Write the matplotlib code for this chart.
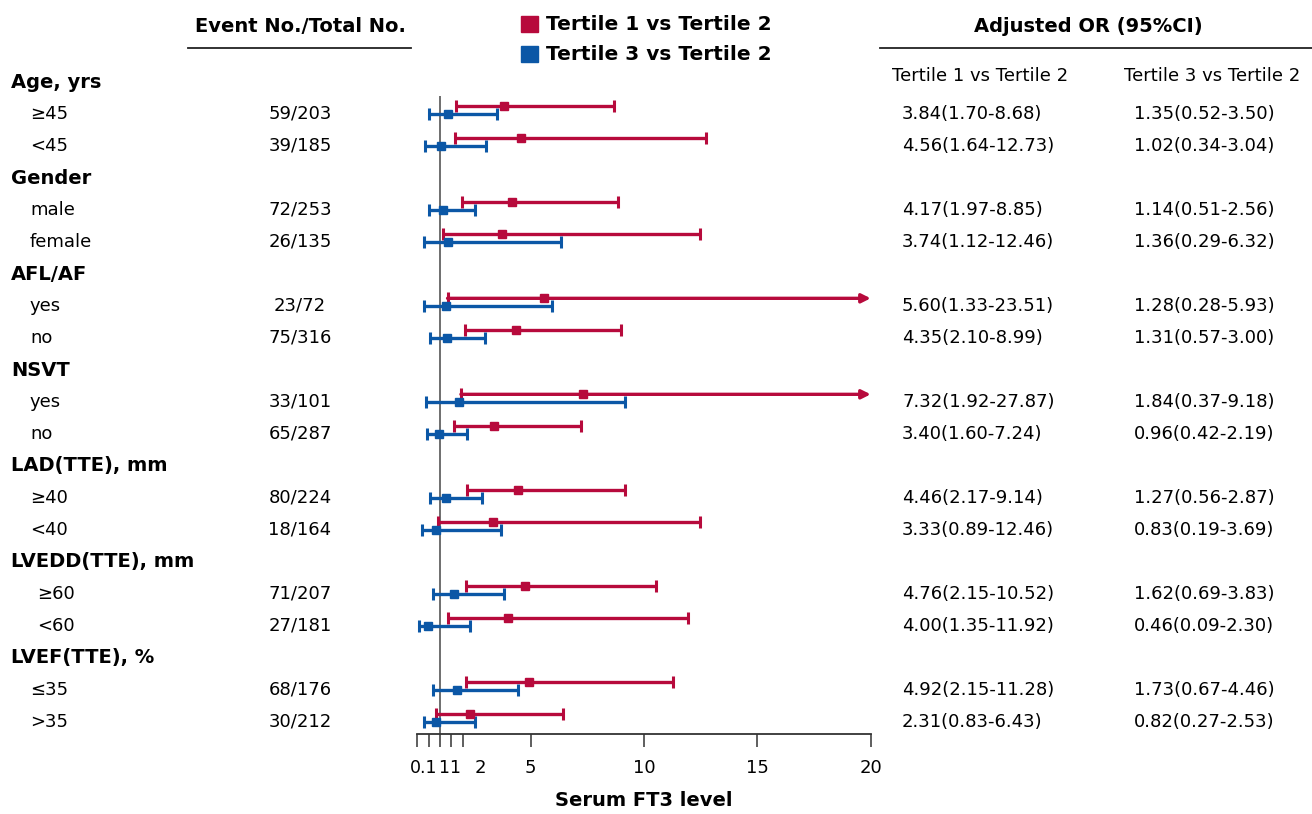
import matplotlib
matplotlib.use("Agg")
import matplotlib.pyplot as plt
from matplotlib.transforms import blended_transform_factory

plt.rcParams['font.family'] = ['DejaVu Sans']

# rows: group headers have an empty count
row_labels = ['Age, yrs', '≥45', '<45', 'Gender', 'male', 'female',
              'AFL/AF', 'yes', 'no', 'NSVT', 'yes', 'no',
              'LAD(TTE), mm', '≥40', '<40', 'LVEDD(TTE), mm', '≥60', '<60',
              'LVEF(TTE), %', '≤35', '>35']
counts = ['', '59/203', '39/185', '', '72/253', '26/135',
          '', '23/72', '75/316', '', '33/101', '65/287',
          '', '80/224', '18/164', '', '71/207', '27/181',
          '', '68/176', '30/212']

# Tertile 1 vs Tertile 2
t1_or = [3.84, 4.56, 4.17, 3.74, 5.60, 4.35, 7.32, 3.40, 4.46, 3.33, 4.76, 4.00, 4.92, 2.31]
t1_lo = [1.70, 1.64, 1.97, 1.12, 1.33, 2.10, 1.92, 1.60, 2.17, 0.89, 2.15, 1.35, 2.15, 0.83]
t1_hi = [8.68, 12.73, 8.85, 12.46, 23.51, 8.99, 27.87, 7.24, 9.14, 12.46, 10.52, 11.92, 11.28, 6.43]
# Tertile 3 vs Tertile 2
t3_or = [1.35, 1.02, 1.14, 1.36, 1.28, 1.31, 1.84, 0.96, 1.27, 0.83, 1.62, 0.46, 1.73, 0.82]
t3_lo = [0.52, 0.34, 0.51, 0.29, 0.28, 0.57, 0.37, 0.42, 0.56, 0.19, 0.69, 0.09, 0.67, 0.27]
t3_hi = [3.50, 3.04, 2.56, 6.32, 5.93, 3.00, 9.18, 2.19, 2.87, 3.69, 3.83, 2.30, 4.46, 2.53]

tick_marks = [0, 0.5, 1, 1.5, 2, 5, 10, 15, 20]
tick_labels = ['0.1', '1', '1', '2', '5', '10', '15', '20']
tick_label_pos = [0.88, 0.90, 1.40, 2.76, 5, 10, 15, 20]
tick_label_ha = ['right', 'left', 'left', 'center', 'center', 'center', 'center', 'center']

RED = '#B70A3C'
BLUE = '#0B57A6'
W, H = 1312, 814
FS = 13
FSB = 14

fig = plt.figure(figsize=(W / 100, H / 100), dpi=100)
ax = fig.add_axes([417.4 / W, 80 / H, (870.7 - 417.4) / W, (734 - 96) / H])
XMAX = 20
ax.set_xlim(0, XMAX)
# row r sits at pixel 82 + 32 r
ax.set_ylim(20.375, 0.4375)

for s in ['left', 'top', 'right']:
    ax.spines[s].set_visible(False)
ax.spines['bottom'].set_color('#333333')
ax.spines['bottom'].set_linewidth(1.3)
ax.set_yticks([])
ax.set_xticks(tick_marks, labels=[''] * len(tick_marks))
ax.tick_params(axis='x', length=9, width=1.1, color='#333333')

# tick labels are crowded near zero, as in the source figure
xlab_tr = blended_transform_factory(ax.transData, fig.transFigure)
for p, t, ha in zip(tick_label_pos, tick_labels, tick_label_ha):
    ax.text(p, 1 - 768 / H, t, transform=xlab_tr, ha=ha, va='center',
            fontsize=FS - 0.5 if p < 2 else FS, clip_on=False)
fig.text(644 / W, 1 - 801 / H, 'Serum FT3 level', ha='center', va='center',
         fontsize=FSB, fontweight='bold')

ax.axvline(1, color='#555555', lw=1.2, zorder=1)

sub_rows = [i for i, c in enumerate(counts) if c]


def draw_series(ors, los, his, offset, color):
    for r, o, lo, hi in zip(sub_rows, ors, los, his):
        y = r + offset
        ax.plot([lo], [y], marker='|', ms=8, mew=2.2, color=color, zorder=3)
        if hi > XMAX:
            ax.annotate('', xy=(XMAX, y), xytext=(lo, y),
                        arrowprops=dict(arrowstyle='-|>', lw=2.4, color=color,
                                        mutation_scale=13, shrinkA=0, shrinkB=0),
                        zorder=3)
        else:
            ax.plot([lo, hi], [y, y], color=color, lw=2.4, solid_capstyle='butt', zorder=3)
            ax.plot([hi], [y], marker='|', ms=8, mew=2.2, color=color, zorder=3)
        ax.plot([o], [y], marker='s', ms=5.5, color=color, zorder=4)


draw_series(t1_or, t1_lo, t1_hi, -0.24, RED)
draw_series(t3_or, t3_lo, t3_hi, 0.0, BLUE)

# left table and right table text, x in figure pixels, y in rows
tr = blended_transform_factory(fig.transFigure, ax.transData)
k = 0
group = ''
for r, (lab, c) in enumerate(zip(row_labels, counts)):
    if c:
        x0 = 37 if group.startswith('LVEDD') else 30
        ax.text(x0 / W, r, lab, transform=tr, ha='left', va='center', fontsize=FS, clip_on=False)
        ax.text(300 / W, r, c, transform=tr, ha='center', va='center', fontsize=FS, clip_on=False)
        ax.text(902 / W, r, f'{t1_or[k]:.2f}({t1_lo[k]:.2f}-{t1_hi[k]:.2f})', transform=tr,
                ha='left', va='center', fontsize=FS, clip_on=False)
        ax.text(1134 / W, r, f'{t3_or[k]:.2f}({t3_lo[k]:.2f}-{t3_hi[k]:.2f})', transform=tr,
                ha='left', va='center', fontsize=FS, clip_on=False)
        k += 1
    else:
        group = lab
        ax.text(11 / W, r, lab, transform=tr, ha='left', va='center', fontsize=FSB,
                fontweight='bold', clip_on=False)


def fy(px):
    return 1 - px / H


# headers
fig.text(300 / W, fy(26), 'Event No./Total No.', ha='center', va='center',
         fontsize=FSB, fontweight='bold')
fig.add_artist(plt.Line2D([188 / W, 411 / W], [fy(48)] * 2, color='#222222', lw=1.3))
fig.text(1088 / W, fy(26), 'Adjusted OR (95%CI)', ha='center', va='center',
         fontsize=FSB, fontweight='bold')
fig.add_artist(plt.Line2D([880 / W, 1312 / W], [fy(48)] * 2, color='#222222', lw=1.3))
fig.text(980 / W, fy(76), 'Tertile 1 vs Tertile 2', ha='center', va='center', fontsize=FS)
fig.text(1212 / W, fy(76), 'Tertile 3 vs Tertile 2', ha='center', va='center', fontsize=FS)

# legend
for yy, col, lab in [(24, RED, 'Tertile 1 vs Tertile 2'), (54, BLUE, 'Tertile 3 vs Tertile 2')]:
    fig.add_artist(plt.Rectangle((521 / W, fy(yy + 8)), 17 / W, 16 / H, color=col))
    fig.text(546 / W, fy(yy), lab, ha='left', va='center', fontsize=FSB + 0.5, fontweight='bold')

fig.savefig('out.png', dpi=100)
